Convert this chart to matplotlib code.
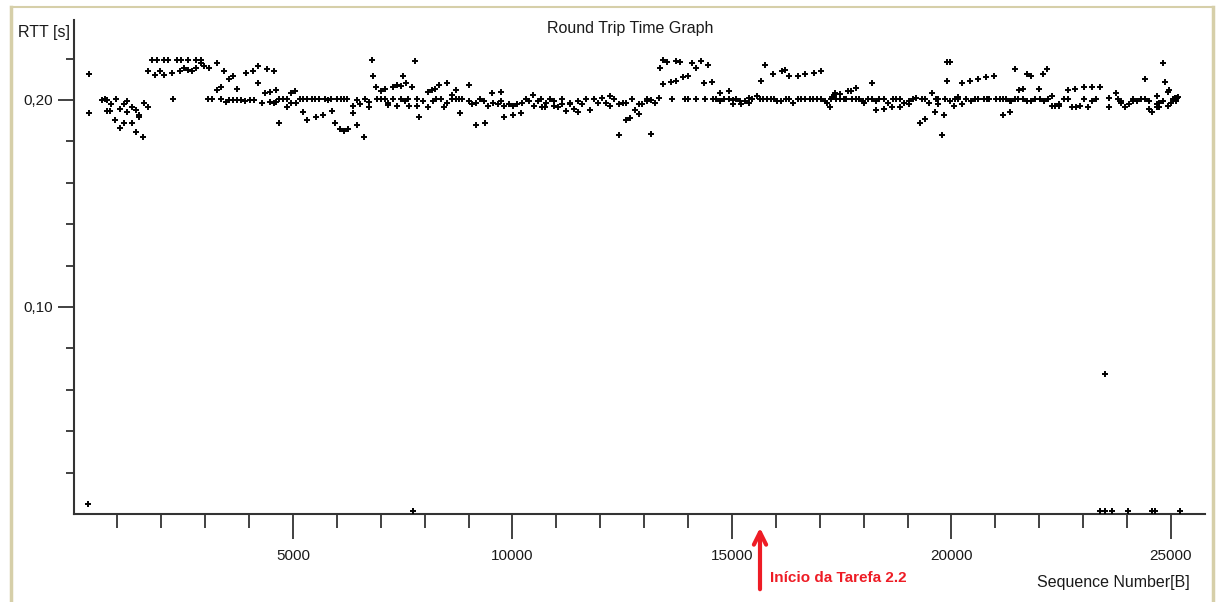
import numpy as np
import matplotlib
matplotlib.use("Agg")
import matplotlib.pyplot as plt
from matplotlib.lines import Line2D

plt.rcParams['font.family'] = ['Liberation Sans', 'DejaVu Sans']

# Sequence number [B] / RTT [s], in segments
seq_a = [353, 353, 656, 717, 770, 763, 839, 854, 945, 968, 1059, 1059, 1142, 1142, 1218, 1218,
         1332, 1340, 1415, 1415, 1499, 1499, 1590, 1613, 1696, 1696, 1795, 1863, 1894, 1970, 2053,
         2061, 2144, 2235, 2258, 2357, 2425, 2448, 2516, 2615, 2615, 2706, 2782, 2797, 2903, 2903,
         2979, 3070, 3078, 3146, 3275, 3275, 3351, 3358, 3434, 3465, 3548, 3548, 3632, 3639, 3723,
         3723, 3806, 3912, 3920, 4019, 4087, 4110, 4193, 4193, 4284]
rtt_a = [.2126, .1936, .2000, .2003, .2000, .1948, .1948, .1980, .1903, .2003, .1957, .1865, .1980,
         .1890, .1997, .1942, .1965, .1890, .1952, .1845, .1925, .1916, .1820, .1987, .1965, .2138,
         .2193, .2122, .2193, .2138, .2193, .2122, .2193, .2129, .2003, .2193, .2138, .2193, .2155,
         .2145, .2193, .2138, .2193, .2155, .2177, .2193, .2164, .2003, .2155, .2003, .2177, .2048,
         .2064, .2003, .2138, .1990, .2100, .2000, .2000, .2116, .2055, .2000, .2000, .1997, .2132,
         .2000, .2138, .2000, .2164, .2081, .1987]

seq_b = [4370, 4400, 4476, 4476, 4567, 4567, 4613, 4613, 4674, 4689, 4765, 4871, 4871, 4947, 4962,
         5038, 5068, 5159, 5235, 5235, 5311, 5326, 5432, 5508, 5524, 5584, 5691, 5721, 5797, 5873,
         5888, 5964, 6009, 6070, 6085, 6161, 6161, 6237, 6252, 6358, 6358, 6450, 6450, 6525, 6617,
         6647, 6723, 6723, 6799, 6814, 6890, 6920, 6996, 7011, 7087, 7102, 7163, 7163, 7284, 7284,
         7375, 7375, 7451, 7466, 7512, 7543, 7573, 7618, 7649, 7709, 7770, 7816, 7816, 7876, 7967,
         8074, 8074, 8165, 8180, 8241, 8256, 8317, 8362, 8438, 8514, 8514]
rtt_b = [.2032, .2148, .2039, .1990, .2138, .1987, .2048, .1992, .1890, .2003, .2003, .2003, .1965,
         .2032, .1987, .2042, .1987, .2003, .2003, .1942, .2003, .1903, .2003, .2003, .1919, .2003,
         .1926, .2003, .2000, .2003, .1948, .1890, .2003, .1858, .2003, .2003, .1848, .2003, .1858,
         .1970, .1939, .2000, .1881, .1980, .1820, .2003, .1992, .1965, .2193, .2116, .2064, .2003,
         .2003, .2045, .2003, .2055, .1987, .1977, .2003, .2064, .2074, .1970, .2068, .2003, .2116,
         .1997, .2081, .2003, .1970, .2064, .2187, .2003, .1970, .1919, .1997, .2040, .1965, .2048,
         .1997, .2055, .2003, .2074, .2003, .1965, .2084, .1987]

seq_c = [8615, 8630, 8706, 8721, 8782, 8812, 8858, 9009, 9009, 9085, 9161, 9176, 9267, 9358, 9374,
         9450, 9541, 9556, 9662, 9738, 9738, 9814, 9814, 9920, 10011, 10011, 10102, 10193, 10208,
         10315, 10376, 10467, 10497, 10573, 10649, 10664, 10740, 10755, 10846, 10937, 10952, 11028,
         11119, 11135, 11211, 11302, 11302, 11393, 11499, 11499, 11575, 11666, 11757, 11863, 11954,
         12045, 12137, 12228, 12228, 12319, 12425, 12425, 12516, 12592, 12592, 12683, 12713, 12789]
rtt_c = [.2026, .2003, .2003, .2048, .2003, .1936, .2003, .2071, .1997, .1980, .1987, .1881, .2003,
         .1997, .1890, .1970, .2032, .1987, .1980, .2040, .1997, .1970, .1919, .1980, .1970, .1926,
         .1980, .1936, .1987, .2003, .1997, .2026, .1970, .1997, .2003, .1965, .1965, .1987, .2003,
         .1997, .1970, .1965, .1980, .2003, .1948, .1987, .1980, .1958, .1997, .1942, .1980, .2003,
         .1952, .2003, .1987, .2010, .1987, .2019, .1970, .2003, .1980, .1829, .1987, .1987, .1903,
         .1913, .2003, .1952]

seq_d = [12875, 12875, 12951, 13072, 13072, 13148, 13163, 13239, 13345, 13360, 13436, 13436, 13527,
         13618, 13634, 13725, 13725, 13816, 13892, 13922, 13998, 13998, 14089, 14180, 14180, 14286,
         14362, 14377, 14453, 14545, 14560, 14636, 14727, 14727, 14818, 14924, 14939, 15015, 15015,
         15091, 15182, 15213, 15288, 15379, 15379, 15455, 15577, 15637, 15653, 15713, 15744, 15789,
         15880, 15941, 15956, 16032, 16108, 16138, 16214, 16229, 16305, 16305, 16381, 16503, 16503,
         16579, 16655, 16670, 16776, 16852, 16867, 16928, 17034, 17034]
rtt_d = [.1932, .1980, .1980, .2003, .1997, .2000, .1836, .1987, .2010, .2155, .2193, .2077, .2184,
         .2087, .2003, .2093, .2190, .2184, .2109, .2003, .2116, .2003, .2177, .2155, .2003, .2187,
         .2081, .2003, .2171, .2087, .2003, .2003, .1997, .2032, .2003, .2042, .2003, .2000, .1980,
         .2003, .1997, .1980, .1997, .2010, .1987, .2003, .2019, .2003, .2093, .2003, .2167, .2003,
         .2003, .2126, .2003, .1997, .1997, .2138, .2145, .2003, .2116, .2003, .1987, .2116, .2003,
         .2003, .2003, .2126, .2003, .2003, .2132, .2003, .2138, .2003]

seq_e = [17120, 17165, 17226, 17256, 17287, 17317, 17347, 17378, 17454, 17454, 17545, 17605, 17636,
         17712, 17742, 17818, 17818, 17894, 17985, 18015, 18106, 18182, 18197, 18273, 18273, 18349,
         18455, 18471, 18546, 18637, 18668, 18744, 18820, 18835, 18926, 19032, 19032, 19123, 19199,
         19290, 19321, 19397, 19397, 19488, 19564, 19624, 19640, 19700, 19700, 19776, 19837, 19852,
         19897, 19897, 19958, 19958, 20049, 20080, 20155, 20155, 20232, 20247, 20323, 20429, 20444,
         20535, 20596, 20611, 20732, 20793, 20808, 20854, 20975, 21021, 21097, 21173, 21173, 21249,
         21325]
rtt_e = [.1997, .1987, .1965, .2003, .2016, .2026, .2032, .2003, .2003, .2029, .2003, .2003, .2042,
         .2042, .2003, .2003, .2058, .2003, .1997, .1987, .2003, .2003, .2081, .1952, .1997, .2003,
         .2003, .1958, .1987, .1965, .2003, .2003, .2003, .1965, .1987, .1980, .1997, .2003, .2010,
         .1890, .2003, .2003, .1907, .1987, .2032, .1942, .2003, .1980, .2003, .1829, .1926, .2003,
         .2093, .2184, .2184, .1997, .1970, .2003, .2016, .2003, .1980, .2084, .2003, .2093, .1997,
         .2003, .2100, .2003, .2003, .2109, .2003, .2003, .2116, .2003, .2003, .2003, .1926, .2003,
         .1997]

seq_f = [21333, 21363, 21439, 21439, 21515, 21530, 21637, 21637, 21728, 21728, 21819, 21819, 21910,
         22001, 22016, 22092, 22107, 22168, 22198, 22289, 22289, 22365, 22456, 22456, 22563, 22654,
         22654, 22745, 22821, 22836, 22927, 23018, 23018, 23109, 23200, 23200, 23291, 23382, 23580,
         23580, 23747, 23792, 23853, 23868, 23944, 24035, 24141, 24141, 24217, 24308, 24399, 24414,
         24506, 24506, 24566, 24672, 24672, 24672, 24733, 24733, 24809, 24809, 24870, 24931, 24961,
         24931, 24991, 25052, 25082, 25113, 25128, 25158]
rtt_f = [.1942, .1997, .2003, .2148, .2003, .2048, .2055, .2003, .2126, .1997, .2116, .1997, .2003,
         .2055, .2003, .2126, .1997, .2148, .2003, .2019, .1970, .1970, .1970, .1980, .2003, .2003,
         .2048, .1965, .2055, .1965, .1970, .2064, .2003, .1965, .2064, .1997, .2003, .2064, .2010,
         .1965, .2032, .2003, .1997, .1987, .1965, .1980, .2003, .1997, .1997, .2003, .2103, .2003,
         .1997, .1958, .1942, .2019, .1980, .1965, .1965, .1987, .2177, .1997, .2087, .2040, .2048,
         .1970, .1987, .2003, .2010, .1997, .2010, .2016]

# outliers near zero
seq_low = [330, 7733, 23383, 23497, 23656, 24021, 24567, 24636, 25205, 23497]
rtt_low = [.0048, .0015, .0015, .0015, .0015, .0015, .0015, .0015, .0015, .0677]

x_major = [5000, 10000, 15000, 20000, 25000]
x_minor = [1000, 2000, 3000, 4000, 6000, 7000, 8000, 9000, 11000, 12000, 13000, 14000,
           16000, 17000, 18000, 19000, 21000, 22000, 23000, 24000]
y_major = [0.10, 0.20]
y_labels = ['0,10', '0,20']
y_minor = [0.02, 0.04, 0.06, 0.08, 0.12, 0.14, 0.16, 0.18, 0.22]

W, H = 1218, 602
fig = plt.figure(figsize=(W / 100, H / 100), dpi=100)
ax = fig.add_axes([73.5 / W, 1 - 514 / H, (1205 - 73.5) / W, (514 - 20) / H])

seq_all = np.concatenate([seq_a, seq_b, seq_c, seq_d, seq_e, seq_f, seq_low])
rtt_all = np.concatenate([rtt_a, rtt_b, rtt_c, rtt_d, rtt_e, rtt_f, rtt_low])
ax.plot(seq_all, rtt_all, ls='none', marker='+', ms=4, mew=1.4, color='black',
        clip_on=False, zorder=5)

ax.set_xlim(0, 25775)
ax.set_ylim(0, 0.2386)

for side in ['top', 'right']:
    ax.spines[side].set_visible(False)
for side in ['left', 'bottom']:
    ax.spines[side].set_color('#333333')
    ax.spines[side].set_linewidth(1.5)

ax.set_xticks(x_major)
ax.set_xticklabels([str(v) for v in x_major])
ax.set_xticks(x_minor, minor=True)
ax.set_yticks(y_major)
ax.set_yticklabels(y_labels)
ax.set_yticks(y_minor, minor=True)

ax.tick_params(axis='x', which='major', length=18, width=1.3, pad=7, labelsize=11,
               color='#333333', labelcolor='#1a1a1a')
ax.tick_params(axis='x', which='minor', length=10, width=1.3, color='#333333')
ax.tick_params(axis='y', which='major', length=11.5, width=1.3, pad=3, labelsize=11,
               color='#333333', labelcolor='#1a1a1a')
ax.tick_params(axis='y', which='minor', length=6, width=1.3, color='#333333')

fig.text(630 / W, 1 - 28 / H, 'Round Trip Time Graph', ha='center', va='center',
         fontsize=11.5, color='#1a1a1a')
fig.text(18 / W, 1 - 33 / H, 'RTT [s]', ha='left', va='center', fontsize=11.5, color='#1a1a1a')
fig.text(1190 / W, 1 - 582 / H, 'Sequence Number[B]', ha='right', va='center',
         fontsize=11.5, color='#1a1a1a')

# red annotation
red = '#ee1c25'
ax.annotate('', xy=(760, H - 525), xycoords='figure pixels',
            xytext=(760, H - 592), textcoords='figure pixels',
            arrowprops=dict(arrowstyle='->', lw=3, color=red, mutation_scale=22))
fig.text(770 / W, 1 - 578 / H, 'Início da Tarefa 2.2', ha='left', va='center',
         fontsize=11, color=red, fontweight='bold',
         family=['Liberation Sans Narrow', 'Liberation Sans', 'DejaVu Sans'])

# beige window frame
frame = '#d6cfa9'
fig.add_artist(Line2D([11 / W, 11 / W], [0, 1 - 7 / H], transform=fig.transFigure,
                      color=frame, lw=2.5))
fig.add_artist(Line2D([11 / W, 1213 / W], [1 - 7 / H, 1 - 7 / H], transform=fig.transFigure,
                      color=frame, lw=1.5))
fig.add_artist(Line2D([1213 / W, 1213 / W], [0, 1 - 7 / H], transform=fig.transFigure,
                      color=frame, lw=2.5))

fig.savefig('out.png', dpi=100)
